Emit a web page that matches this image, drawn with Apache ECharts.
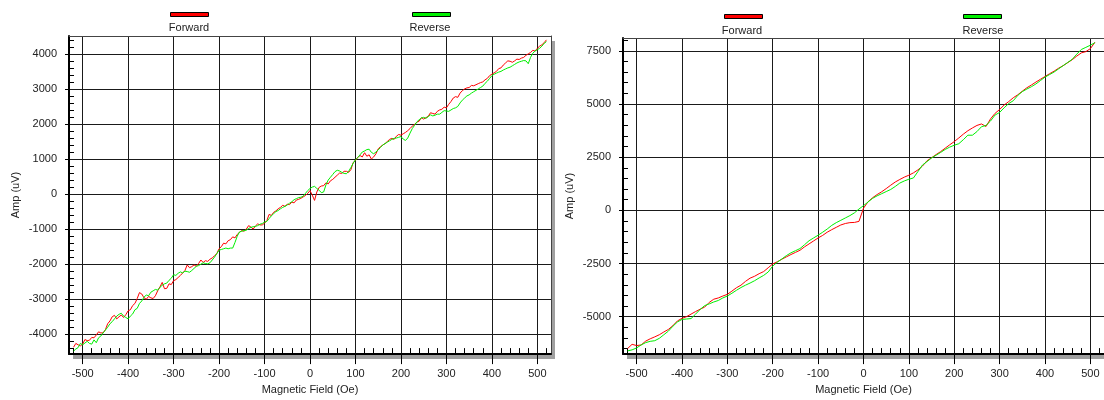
<!DOCTYPE html>
<html>
<head>
<meta charset="utf-8">
<title>Amp vs Magnetic Field</title>
<script src="https://cdn.jsdelivr.net/npm/echarts@6/dist/echarts.min.js"></script>
<style>
html, body { margin: 0; padding: 0; background: #fff; }
#chart { width: 1104px; height: 400px; }
</style>
</head>
<body>
<div id="chart"></div>
<script>
// magnetic field (Oe) sample points, left chart
var fieldL = [
	-520, -515, -510, -505, -500, -495, -490, -485, -480, -475,
	-470, -465, -460, -455, -450, -445, -440, -435, -430, -425,
	-420, -415, -410, -405, -400, -395, -390, -385, -380, -375,
	-370, -365, -360, -355, -350, -345, -340, -335, -330, -325,
	-320, -315, -310, -305, -300, -295, -290, -285, -280, -275,
	-270, -265, -260, -255, -250, -245, -240, -235, -230, -225,
	-220, -215, -210, -205, -200, -195, -190, -185, -180, -175,
	-170, -165, -160, -155, -150, -145, -140, -135, -130, -125,
	-120, -115, -110, -105, -100, -95, -90, -85, -80, -75,
	-70, -65, -60, -55, -50, -45, -40, -35, -30, -25,
	-20, -15, -10, -5, 0, 5, 10, 15, 20, 25,
	30, 35, 40, 45, 50, 55, 60, 65, 70, 75,
	80, 85, 90, 95, 100, 105, 110, 115, 120, 125,
	130, 135, 140, 145, 150, 155, 160, 165, 170, 175,
	180, 185, 190, 195, 200, 205, 210, 215, 220, 225,
	230, 235, 240, 245, 250, 255, 260, 265, 270, 275,
	280, 285, 290, 295, 300, 305, 310, 315, 320, 325,
	330, 335, 340, 345, 350, 355, 360, 365, 370, 375,
	380, 385, 390, 395, 400, 405, 410, 415, 420, 425,
	430, 435, 440, 445, 450, 455, 460, 465, 470, 475,
	480, 485, 490, 495, 500, 505, 510, 515, 520
];
var fwdL = [
	-4370, -4260, -4300, -4330, -4280, -4150, -4180, -4170, -4090, -4100,
	-4020, -3930, -3960, -3960, -3870, -3700, -3620, -3500, -3460, -3560,
	-3500, -3450, -3520, -3440, -3330, -3300, -3180, -3120, -2980, -2810,
	-2850, -2960, -3000, -2920, -2960, -2980, -2900, -2760, -2650, -2520,
	-2700, -2690, -2560, -2580, -2470, -2440, -2380, -2320, -2250, -2180,
	-2020, -2100, -2070, -2020, -2060, -1980, -1880, -1950, -1900, -1920,
	-1860, -1820, -1760, -1700, -1560, -1500, -1400, -1420, -1330, -1300,
	-1220, -1250, -1150, -1090, -1040, -1060, -1000, -900, -940, -1000,
	-910, -850, -880, -880, -830, -760, -580, -610, -520, -480,
	-420, -380, -320, -350, -290, -300, -230, -250, -170, -150,
	-120, -80, -40, 20, 100, -30, -180, 60, 190, 230,
	240, 320, 290, 380, 420, 480, 540, 600, 590, 650,
	650, 620, 700, 900, 960, 1050, 1100, 1060, 1180, 1080,
	1120, 1000, 1060, 1150, 1290, 1350, 1400, 1440, 1500, 1560,
	1590, 1560, 1650, 1700, 1680, 1720, 1760, 1810, 1870, 1940,
	1990, 2050, 2080, 2180, 2140, 2180, 2220, 2320, 2300, 2280,
	2360, 2400, 2420, 2480, 2460, 2560, 2640, 2740, 2780, 2760,
	2880, 2950, 3000, 3030, 3040, 3100, 3090, 3120, 3150, 3180,
	3200, 3260, 3300, 3380, 3420, 3460, 3500, 3580, 3600, 3680,
	3740, 3800, 3790, 3760, 3800, 3850, 3840, 3880, 3900, 3960,
	4000, 4040, 4100, 4080, 4160, 4220, 4260, 4320, 4400
];
var revL = [
	-4480, -4420, -4380, -4260, -4300, -4250, -4200, -4260, -4280, -4160,
	-4240, -4100, -4050, -3960, -3880, -3800, -3700, -3640, -3560, -3480,
	-3430, -3400, -3480, -3520, -3560, -3480, -3420, -3300, -3260, -3120,
	-3050, -2940, -2880, -2900, -2800, -2760, -2720, -2740, -2660, -2600,
	-2560, -2540, -2460, -2400, -2300, -2320, -2260, -2220, -2250, -2200,
	-2210, -2230, -2180, -2120, -2060, -2040, -2000, -1960, -1980, -1990,
	-1960, -1880, -1800, -1700, -1600, -1580, -1560, -1540, -1560, -1540,
	-1540, -1380, -1200, -1080, -1060, -1040, -1030, -980, -950, -930,
	-920, -900, -860, -840, -800, -780, -700, -620, -560, -500,
	-470, -420, -380, -350, -310, -260, -220, -160, -130, -100,
	-90, -60, 20, 100, 160, 200, 220, 160, 110, 40,
	60, 260, 400, 480, 560, 640, 680, 660, 620, 590,
	580, 650, 760, 880, 980, 1040, 1120, 1200, 1230, 1270,
	1280, 1190, 1150, 1200, 1260, 1330, 1400, 1440, 1480, 1520,
	1560, 1590, 1600, 1620, 1640, 1570, 1530, 1600, 1740, 1870,
	1960, 2060, 2120, 2170, 2190, 2160, 2210, 2260, 2230, 2250,
	2280, 2280, 2330, 2380, 2370, 2360, 2400, 2440, 2460, 2500,
	2600, 2680, 2740, 2800, 2830, 2880, 2920, 2960, 3000, 3040,
	3080, 3160, 3220, 3300, 3380, 3420, 3450, 3480, 3500, 3540,
	3570, 3600, 3620, 3660, 3700, 3740, 3770, 3790, 3810, 3800,
	3720, 3900, 4020, 4080, 4120, 4160, 4220, 4300, 4350
];

// right chart
var fieldR = [
	-520, -510, -500, -490, -480, -470, -460, -450, -440, -430,
	-420, -410, -400, -390, -380, -370, -360, -350, -340, -330,
	-320, -310, -300, -290, -280, -270, -260, -250, -240, -230,
	-220, -210, -200, -190, -180, -170, -160, -150, -140, -130,
	-120, -110, -100, -90, -80, -70, -60, -50, -40, -30,
	-20, -10, 0, 10, 20, 30, 40, 50, 60, 70,
	80, 90, 100, 110, 120, 130, 140, 150, 160, 170,
	180, 190, 200, 210, 220, 230, 240, 250, 260, 270,
	280, 290, 300, 310, 320, 330, 340, 350, 360, 370,
	380, 390, 400, 410, 420, 430, 440, 450, 460, 470,
	480, 490, 500, 510
];
var fwdR = [
	-6500, -6300, -6360, -6330, -6150, -6040, -5950, -5850, -5720, -5600,
	-5420, -5200, -5080, -5000, -4880, -4760, -4650, -4550, -4330, -4180,
	-4120, -4030, -3950, -3800, -3640, -3520, -3340, -3190, -3100, -2980,
	-2880, -2700, -2520, -2420, -2300, -2190, -2080, -1980, -1880, -1720,
	-1580, -1440, -1300, -1180, -1030, -910, -800, -690, -620, -580,
	-570, -520, 100, 400, 590, 740, 870, 1020, 1180, 1330,
	1450, 1560, 1650, 1760, 1900, 2080, 2330, 2470, 2620, 2760,
	2920, 3080, 3230, 3400, 3580, 3740, 3870, 3990, 4060, 3940,
	4300, 4560, 4740, 4950, 5110, 5290, 5430, 5600, 5760, 5890,
	6030, 6160, 6290, 6420, 6540, 6680, 6800, 6940, 7080, 7250,
	7400, 7460, 7600, 7900
];
var revR = [
	-6610, -6560, -6470, -6330, -6220, -6160, -6130, -6020, -5850, -5680,
	-5450, -5250, -5130, -5110, -5090, -4880, -4660, -4480, -4400, -4310,
	-4240, -4120, -4030, -3900, -3760, -3630, -3520, -3420, -3310, -3180,
	-3060, -2900, -2620, -2440, -2290, -2130, -2000, -1900, -1800, -1620,
	-1430, -1300, -1170, -1030, -880, -710, -580, -470, -360, -250,
	-120, 60, 220, 390, 560, 680, 780, 880, 980, 1120,
	1280, 1380, 1460, 1520, 1820, 2130, 2290, 2460, 2590, 2720,
	2860, 2970, 3060, 3130, 3320, 3530, 3530, 3700, 3930, 3990,
	4200, 4480, 4600, 4820, 5020, 5150, 5400, 5580, 5700, 5810,
	5940, 6100, 6260, 6380, 6500, 6650, 6800, 6950, 7100, 7340,
	7560, 7660, 7760, 7880
];

// tick labels
var xTicks = [-500, -400, -300, -200, -100, 0, 100, 200, 300, 400, 500];
var yTicksL = [-4000, -3000, -2000, -1000, 0, 1000, 2000, 3000, 4000];
var yTicksR = [-5000, -2500, 0, 2500, 5000, 7500];

var FONT = "'Liberation Sans', Arial, sans-serif";
var TXT = '#222';
var RED = '#ff0000';
var GREEN = '#00f000';

// minor tick positions between the labelled ones
function minorTicks(from, to, step, major) {
	var out = [];
	for (var v = from; v <= to; v += step) {
		if (v % major !== 0) out.push(v);
	}
	return out;
}

function pairs(xs, ys) {
	return xs.map(function(x, i) { return [x, ys[i]]; });
}

// main x axis: labels, outward ticks, grid lines
function xMain(grid, min, max) {
	return {
		type: 'value', gridIndex: grid, min: min, max: max, position: 'bottom',
		name: 'Magnetic Field (Oe)', nameLocation: 'middle', nameGap: 29,
		nameTextStyle: { color: TXT, fontSize: 11, fontFamily: FONT },
		axisLine: { show: true, onZero: false, lineStyle: { color: '#000', width: 2 } },
		axisTick: { show: true, inside: false, length: 10, customValues: xTicks, lineStyle: { color: '#000' } },
		axisLabel: { customValues: xTicks, margin: 14, color: TXT, fontSize: 11, fontFamily: FONT,
			formatter: function(v) { return String(v); } },
		splitLine: { show: true, lineStyle: { color: '#1a1a1a', width: 1 } }
	};
}

// extra x axis that only carries the short inner ticks
function xMinor(grid, min, max) {
	return {
		type: 'value', gridIndex: grid, min: min, max: max, position: 'bottom',
		axisLine: { show: false, onZero: false },
		axisTick: { show: true, inside: true, length: 6, customValues: minorTicks(-520, 520, 20, 100), lineStyle: { color: '#000' } },
		axisLabel: { show: false },
		splitLine: { show: false }
	};
}

// plain frame line on top / right
function frameAxis(grid, min, max, pos) {
	return {
		type: 'value', gridIndex: grid, min: min, max: max, position: pos,
		axisLine: { show: true, onZero: false, lineStyle: { color: '#444', width: 1 } },
		axisTick: { show: false }, axisLabel: { show: false }, splitLine: { show: false }
	};
}

function yMain(grid, min, max, ticks, gap) {
	return {
		type: 'value', gridIndex: grid, min: min, max: max, position: 'left',
		name: 'Amp (uV)', nameLocation: 'middle', nameGap: gap,
		nameTextStyle: { color: TXT, fontSize: 11, fontFamily: FONT },
		axisLine: { show: true, onZero: false, lineStyle: { color: '#000', width: 2 } },
		axisTick: { show: true, inside: false, length: 4, customValues: ticks, lineStyle: { color: '#000' } },
		axisLabel: { customValues: ticks, margin: 12, color: TXT, fontSize: 11, fontFamily: FONT,
			formatter: function(v) { return String(v); } },
		splitLine: { show: true, lineStyle: { color: '#1a1a1a', width: 1 } }
	};
}

function yMinor(grid, min, max, ticks) {
	return {
		type: 'value', gridIndex: grid, min: min, max: max, position: 'left',
		axisLine: { show: false, onZero: false },
		axisTick: { show: true, inside: true, length: 5, customValues: ticks, lineStyle: { color: '#000' } },
		axisLabel: { show: false },
		splitLine: { show: false }
	};
}

function gridBox(left, top, width, height) {
	return {
		left: left, top: top, width: width, height: height, show: true,
		backgroundColor: '#fff', borderWidth: 0,
		shadowColor: '#a0a0a0', shadowBlur: 0, shadowOffsetX: 4, shadowOffsetY: 5
	};
}

function legendBar(name, left, top) {
	return {
		data: [name], left: left, top: top, padding: 0, selectedMode: false,
		icon: 'rect', itemWidth: 38, itemHeight: 4,
		itemStyle: { borderColor: '#000', borderWidth: 1 },
		formatter: function() { return ''; }
	};
}

function label(text, x, y) {
	return {
		type: 'text', x: x, y: y,
		style: { text: text, fill: TXT, fontSize: 11, fontFamily: FONT, align: 'center', verticalAlign: 'middle' }
	};
}

function line(name, color, axis, xs, ys) {
	return {
		name: name, type: 'line', xAxisIndex: axis, yAxisIndex: axis, data: pairs(xs, ys),
		showSymbol: false, color: color, lineStyle: { width: 1 }
	};
}

var myChart = echarts.init(document.getElementById('chart'));
var option = {
	animation: false,
	backgroundColor: '#fff',
	legend: [
		legendBar('Forward', 170, 12),
		legendBar('Reverse', 412, 12),
		legendBar('Forward', 724, 14),
		legendBar('Reverse', 963, 14)
	],
	graphic: [
		label('Forward', 189, 28),
		label('Reverse', 430, 28),
		label('Forward', 742, 31),
		label('Reverse', 983, 31)
	],
	grid: [
		gridBox(69, 36, 482, 321),
		gridBox(623, 38, 481, 321)
	],
	xAxis: [
		xMain(0, -530, 530), xMinor(0, -530, 530), frameAxis(0, -530, 530, 'top'),
		xMain(1, -530, 530), xMinor(1, -530, 530), frameAxis(1, -530, 530, 'top')
	],
	yAxis: [
		yMain(0, -4565, 4510, yTicksL, 48), yMinor(0, -4565, 4510, minorTicks(-4400, 4400, 200, 1000)),
		frameAxis(0, -4565, 4510, 'right'),
		yMain(1, -6760, 8100, yTicksR, 48), yMinor(1, -6760, 8100, minorTicks(-6500, 8000, 500, 2500)),
		frameAxis(1, -6760, 8100, 'right')
	],
	series: [
		line('Forward', RED, 0, fieldL, fwdL),
		line('Reverse', GREEN, 0, fieldL, revL),
		line('Forward', RED, 3, fieldR, fwdR),
		line('Reverse', GREEN, 3, fieldR, revR)
	]
};
myChart.setOption(option);
</script>
</body>
</html>
